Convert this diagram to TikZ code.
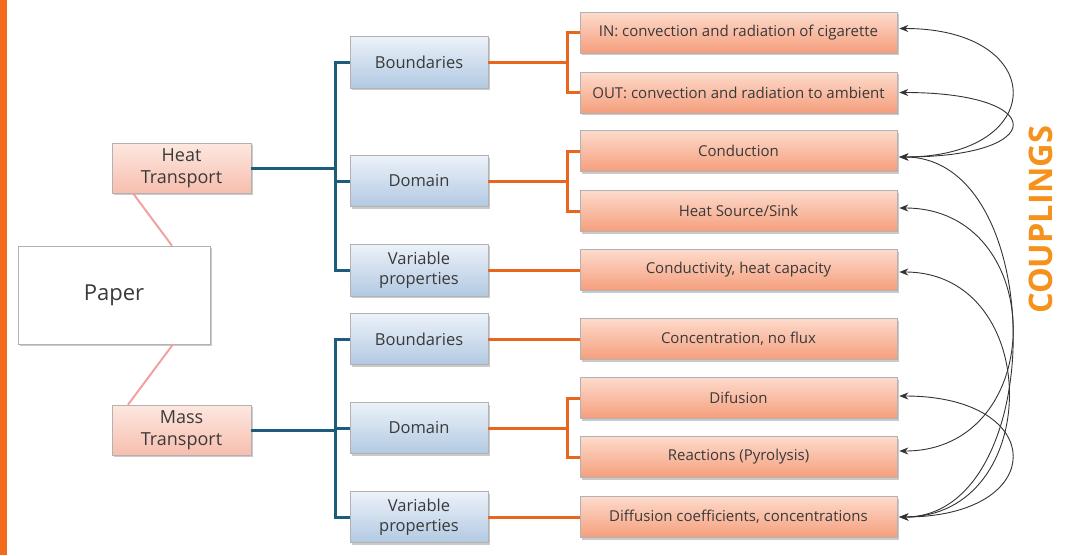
\documentclass[tikz,border=0pt]{standalone}
\usepackage{fontspec}
\setmainfont{Open Sans}
\usetikzlibrary{shadows,arrows.meta}
\definecolor{barorange}{HTML}{F26B1D}
\definecolor{txt}{HTML}{3A3A3A}
\definecolor{blueln}{HTML}{1D5C7C}
\definecolor{orangeln}{HTML}{E8661E}
\definecolor{pinkln}{HTML}{F0A2A0}
\definecolor{coupl}{HTML}{F4921C}
\tikzset{
  basebox/.style={draw=black!30, line width=0.6pt, inner sep=0pt, align=center, text=txt,
    drop shadow={shadow xshift=1.5pt, shadow yshift=-2pt, opacity=0.35, fill=black!60}},
  paperbox/.style={basebox, fill=white, minimum width=192pt, minimum height=98pt,
    font=\fontsize{22}{26}\selectfont},
  transbox/.style={basebox, top color={rgb,255:red,253;green,232;blue,224}, bottom color={rgb,255:red,247;green,190;blue,174},
    minimum width=139pt, minimum height=50pt, font=\fontsize{18}{22}\selectfont},
  bluebox/.style={basebox, top color={rgb,255:red,236;green,242;blue,249}, bottom color={rgb,255:red,178;green,201;blue,226},
    minimum width=138pt, minimum height=51pt, font=\fontsize{16.5}{20}\selectfont},
  salbox/.style={basebox, top color={rgb,255:red,253;green,219;blue,204}, bottom color={rgb,255:red,245;green,158;blue,124},
    minimum width=317pt, minimum height=41pt, font=\fontsize{15}{18}\selectfont},
  blueline/.style={draw=blueln, line width=3pt},
  orline/.style={draw=orangeln, line width=3pt},
  pinkline/.style={draw=pinkln, line width=2pt},
  cpl/.style={draw=black!80, line width=0.9pt,
    arrows={Stealth[length=9pt,width=7pt]-Stealth[length=9pt,width=7pt]}}
}
\begin{document}
\begin{tikzpicture}[x=1pt,y=-1pt]
\useasboundingbox (0,0) rectangle (1065,555);
\fill[barorange] (0,0) rectangle (7,555);

% junction coordinates
\coordinate (bj) at (335,0);
\coordinate (oj) at (567,0);

% left nodes
\node[paperbox] (paper) at (114,295) {Paper};
\node[transbox] (heat) at (181.5,168) {Heat\\Transport};
\node[transbox] (mass) at (181.5,430) {Mass\\Transport};

% blue boxes
\node[bluebox, minimum height=52pt] (b1) at (419,62) {Boundaries};
\node[bluebox] (d1) at (419,181) {Domain};
\node[bluebox, minimum height=52pt] (v1) at (419,270) {Variable\\properties};
\node[bluebox] (b2) at (419,339) {Boundaries};
\node[bluebox] (d2) at (419,428) {Domain};
\node[bluebox] (v2) at (419,517) {Variable\\properties};

% salmon boxes
\node[salbox] (r1) at (738.5,32.5) {IN: convection and radiation of cigarette};
\node[salbox] (r2) at (738.5,92.5) {OUT: convection and radiation to ambient};
\node[salbox] (r3) at (738.5,151) {Conduction};
\node[salbox] (r4) at (738.5,211) {Heat Source/Sink};
\node[salbox] (r5) at (738.5,270) {Conductivity, heat capacity};
\node[salbox] (r6) at (738.5,339) {Concentration, no flux};
\node[salbox] (r7) at (738.5,398) {Difusion};
\node[salbox] (r8) at (738.5,457) {Reactions (Pyrolysis)};
\node[salbox] (r9) at (738.5,517) {Diffusion coefficients, concentrations};

% couplings label
\node[rotate=90, inner sep=0pt, text=coupl, font=\fontsize{32.5}{33}\selectfont\bfseries] (coup) at (1041,220) {COUPLINGS};

% pink connectors
\draw[pinkline] ([xshift=58pt]paper.north) -- ([xshift=-48.5pt]heat.south);
\draw[pinkline] ([xshift=59pt]paper.south) -- ([xshift=-53.5pt]mass.north);

% blue connectors
\draw[blueline] (heat.east) -- (heat.east -| bj);
\draw[blueline] (b1.west) -| (v1.west -| bj) -- (v1.west);
\draw[blueline] (d1.west) -- (d1.west -| bj);
\draw[blueline] (mass.east) -- (mass.east -| bj);
\draw[blueline] (b2.west) -| (v2.west -| bj) -- (v2.west);
\draw[blueline] (d2.west) -- (d2.west -| bj);

% orange connectors
\draw[orline] (b1.east) -- (b1.east -| oj);
\draw[orline] (r1.west) -| (r2.west -| oj) -- (r2.west);
\draw[orline] (d1.east) -- (d1.east -| oj);
\draw[orline] (r3.west) -| (r4.west -| oj) -- (r4.west);
\draw[orline] (v1.east) -- (v1.east -| r5.west);
\draw[orline] (b2.east) -- (b2.east -| r6.west);
\draw[orline] (d2.east) -- (d2.east -| oj);
\draw[orline] (r7.west) -| (r8.west -| oj) -- (r8.west);
\draw[orline] (v2.east) -- (v2.east -| r9.west);

% coupling arrows
\draw[cpl] ([xshift=2pt,yshift=4pt]r1.east) .. controls +(150,0) and +(150,0) .. ([xshift=2pt,yshift=-6pt]r3.east);
\draw[cpl] ([xshift=2pt]r2.east) .. controls +(150,0) and +(150,0) .. ([xshift=2pt,yshift=-6pt]r3.east);
\draw[cpl] ([xshift=2pt,yshift=-6pt]r3.east) .. controls +(150,0) and +(150,0) .. ([xshift=2pt]r9.east);
\draw[cpl] ([xshift=2pt,yshift=3pt]r4.east) .. controls +(150,0) and +(150,0) .. ([xshift=2pt,yshift=6pt]r8.east);
\draw[cpl] ([xshift=2pt,yshift=-2pt]r5.east) .. controls +(145,0) and +(145,0) .. ([xshift=2pt]r9.east);
\draw[cpl] ([xshift=2pt,yshift=2pt]r7.east) .. controls +(150,0) and +(150,0) .. ([xshift=2pt]r9.east);
\end{tikzpicture}
\end{document}
